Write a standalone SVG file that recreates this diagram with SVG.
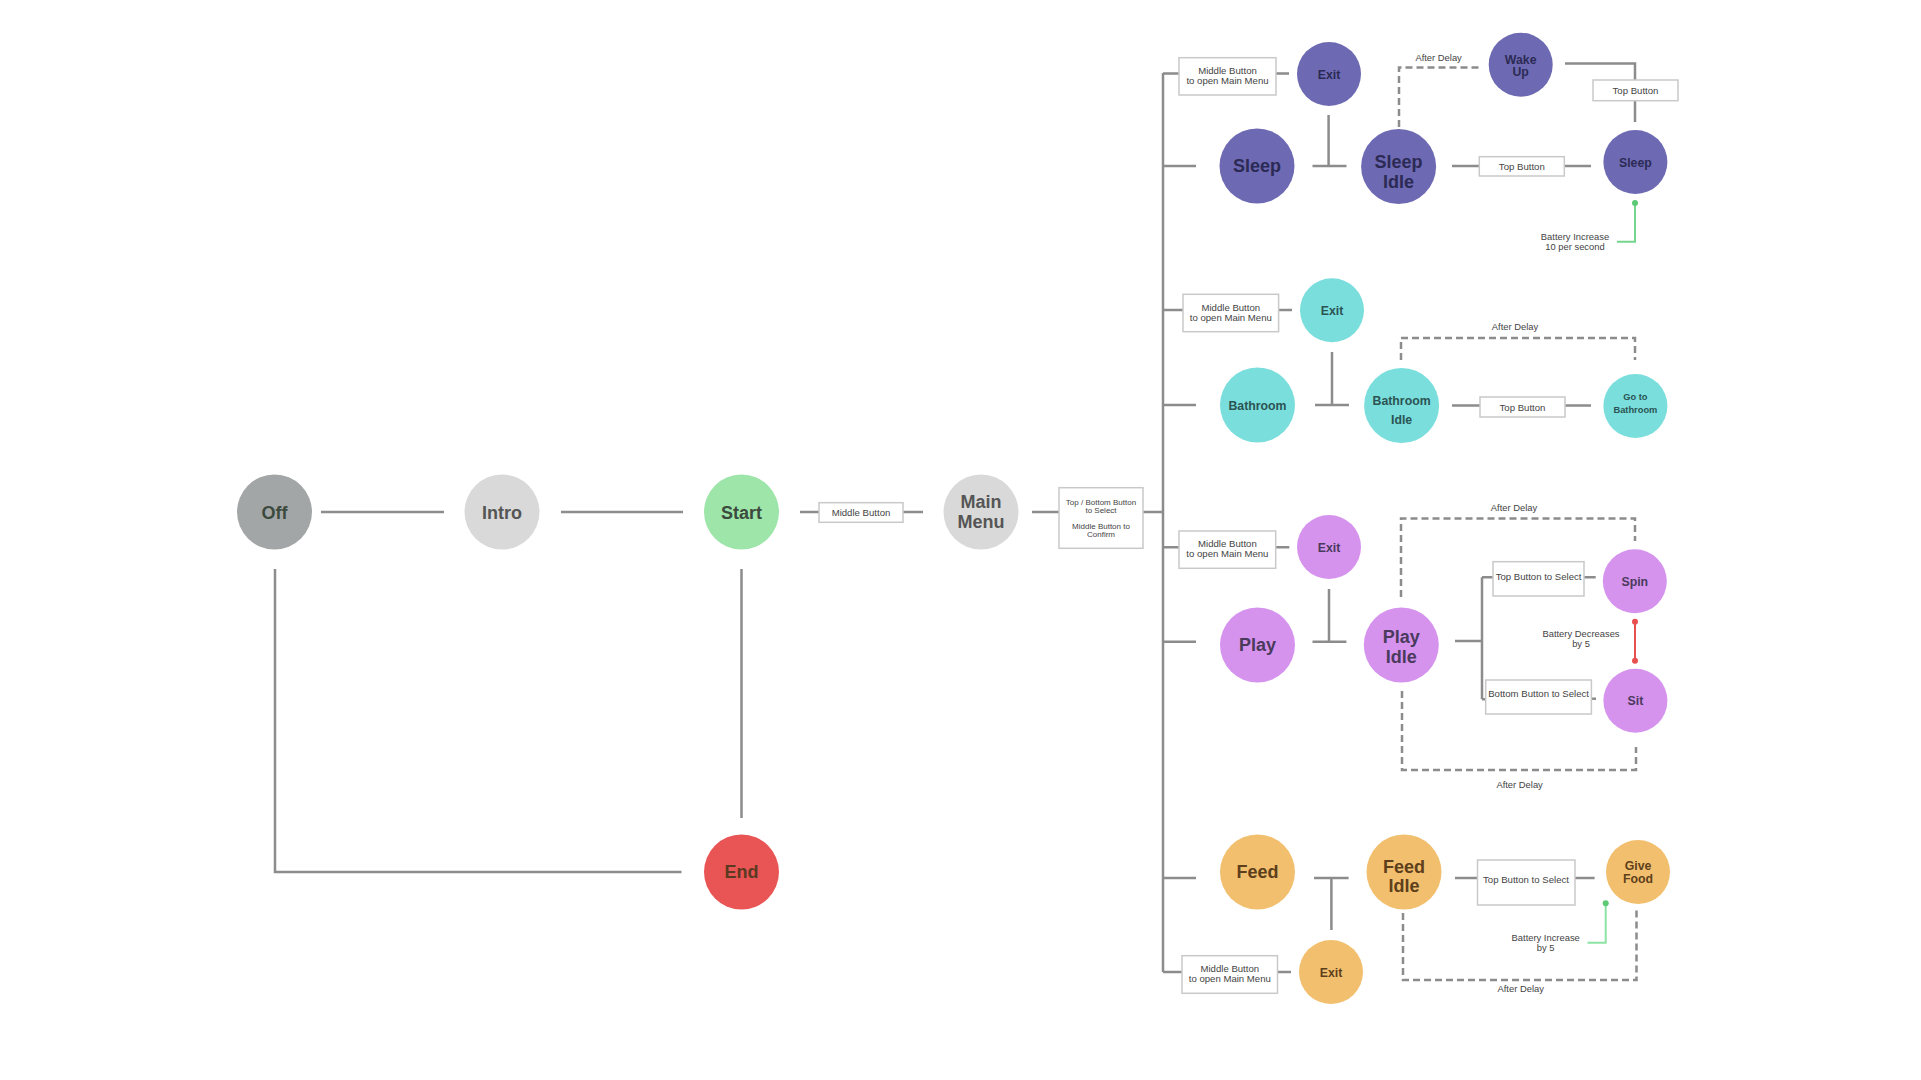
<svg xmlns="http://www.w3.org/2000/svg" width="1921" height="1080" viewBox="0 0 1921 1080">
<style>
.ln{fill:none;stroke:#8c8c8c;stroke-width:2.5}
.dash{fill:none;stroke:#8c8c8c;stroke-width:2.5;stroke-dasharray:7 4}
.box{fill:#fff;stroke:#c9c9c9;stroke-width:1.5}
.bt{font-family:"Liberation Sans",Arial,sans-serif;font-size:9.6px;fill:#444;text-anchor:middle}
.lbl{font-family:"Liberation Sans",Arial,sans-serif;font-size:9.4px;fill:#444;text-anchor:middle}
.big{font-family:"Liberation Sans",Arial,sans-serif;font-size:18px;font-weight:bold;text-anchor:middle}
.sm{font-family:"Liberation Sans",Arial,sans-serif;font-size:12.3px;font-weight:bold;text-anchor:middle}
.xs{font-family:"Liberation Sans",Arial,sans-serif;font-size:9.3px;font-weight:bold;text-anchor:middle}
.pu{fill:#6d6ab3}.put{fill:#2c2a55}
.cy{fill:#79dedc}.cyt{fill:#2b5453}
.vi{fill:#d593ee}.vit{fill:#4a3a5c}
.or{fill:#f2bf6e}.ort{fill:#5e3f1c}
</style>
<rect width="1921" height="1080" fill="#fff"/>
<g id="connectors">
<path class="ln" d="M321 512H444M561 512H683M800 512H819M903 512H923M1032 512H1059M1143 512H1163M275 569V872H681.5M741.5 569V818"/>
<path class="ln" d="M1163 73V972"/>
<path class="ln" d="M1163 73.5H1179M1276 73.5H1289M1163 166H1196M1312.5 166H1346.5M1328.6 115V166M1452 166H1479.5M1564 166H1591M1565 63.5H1635V122"/>
<path class="ln" d="M1163 310H1183M1278.6 310H1292M1163 405H1196M1315 405H1349M1332 352V405M1452 405.5H1480M1565 405.5H1591"/>
<path class="ln" d="M1163 547.3H1179M1275.7 547.3H1289.3M1163 641.7H1196M1312.5 641.7H1346.4M1329 589V641.7M1455 641H1482M1482 577.3V699.3M1482 577.3H1493M1584 577.3H1595.7M1482 699.3H1485.7M1591.4 698.7H1596"/>
<path class="ln" d="M1163 878H1196M1314 878H1348.6M1331.4 878V930M1455 878H1477.5M1575 878H1594.6M1163 972H1182M1277.5 972H1291"/>
<path class="dash" d="M1399 127V67.5H1482"/>
<path class="dash" d="M1401 360V338H1635V360"/>
<path class="dash" d="M1401 597V518.5H1635V541"/>
<path class="dash" d="M1402 691V770H1636V747"/>
<path class="dash" d="M1403 913V980H1636.5V908"/>
<path d="M1635 203V241.7H1617" fill="none" stroke="#74d68e" stroke-width="2"/>
<circle cx="1635" cy="203" r="3" fill="#5cc975"/>
<path d="M1605.7 903.3V942.7H1587.5" fill="none" stroke="#8de3a5" stroke-width="2"/>
<circle cx="1605.7" cy="903.3" r="3" fill="#5cc975"/>
<path d="M1635 621.7V660.7" fill="none" stroke="#e8504f" stroke-width="2"/>
<circle cx="1635" cy="621.7" r="3" fill="#e8504f"/>
<circle cx="1635" cy="660.7" r="3" fill="#e8504f"/>
<rect class="box" x="819" y="502.7" width="84" height="19.6"/>
<text class="bt" x="861" y="515.6">Middle Button</text>
<rect class="box" x="1059" y="487.7" width="84" height="60.6"/>
<text class="bt" style="font-size:8px" x="1101" y="505.3">Top / Bottom Button</text>
<text class="bt" style="font-size:8px" x="1101" y="513">to Select</text>
<text class="bt" style="font-size:8px" x="1101" y="528.7">Middle Button to</text>
<text class="bt" style="font-size:8px" x="1101" y="536.7">Confirm</text>
<rect class="box" x="1179" y="57.7" width="97" height="37.3"/>
<text class="bt" x="1227.5" y="74.2">Middle Button</text>
<text class="bt" x="1227.5" y="84">to open Main Menu</text>
<rect class="box" x="1479.3" y="156.7" width="85" height="19.3"/>
<text class="bt" x="1521.8" y="169.8">Top Button</text>
<rect class="box" x="1593" y="80" width="85" height="20.7"/>
<text class="bt" x="1635.5" y="93.8">Top Button</text>
<text class="lbl" x="1438.6" y="60.5">After Delay</text>
<text class="lbl" x="1575" y="240">Battery Increase</text>
<text class="lbl" x="1575" y="250">10 per second</text>
<rect class="box" x="1183" y="294.3" width="95.6" height="37.4"/>
<text class="bt" x="1230.8" y="310.7">Middle Button</text>
<text class="bt" x="1230.8" y="320.7">to open Main Menu</text>
<rect class="box" x="1480" y="397" width="85" height="20"/>
<text class="bt" x="1522.5" y="410.8">Top Button</text>
<text class="lbl" x="1515" y="329.5">After Delay</text>
<rect class="box" x="1179" y="531" width="96.7" height="37.3"/>
<text class="bt" x="1227.4" y="547.3">Middle Button</text>
<text class="bt" x="1227.4" y="557.3">to open Main Menu</text>
<rect class="box" x="1493" y="561.7" width="91" height="34.3"/>
<text class="bt" x="1538.6" y="580">Top Button to Select</text>
<rect class="box" x="1485.7" y="680" width="105.7" height="34"/>
<text class="bt" x="1538.6" y="697.3">Bottom Button to Select</text>
<text class="lbl" x="1514" y="510.7">After Delay</text>
<text class="lbl" x="1519.6" y="788.4">After Delay</text>
<text class="lbl" x="1581" y="636.7">Battery Decreases</text>
<text class="lbl" x="1581" y="646.7">by 5</text>
<rect class="box" x="1477.5" y="860" width="97.5" height="45"/>
<text class="bt" x="1526" y="883">Top Button to Select</text>
<rect class="box" x="1182" y="955.7" width="95.5" height="37.6"/>
<text class="bt" x="1229.8" y="972">Middle Button</text>
<text class="bt" x="1229.8" y="982">to open Main Menu</text>
<text class="lbl" x="1545.7" y="941">Battery Increase</text>
<text class="lbl" x="1545.7" y="951">by 5</text>
<text class="lbl" x="1520.7" y="992.4">After Delay</text>
</g>
<g id="off"><circle cx="274.5" cy="512" r="37.5" fill="#a3a6a6"/><text class="big" x="274.5" y="518.8" fill="#3c4a3e">Off</text></g>
<g id="intro"><circle cx="502" cy="512" r="37.5" fill="#d9d9d9"/><text class="big" x="502" y="518.8" fill="#555">Intro</text></g>
<g id="start"><circle cx="741.5" cy="512" r="37.5" fill="#9de5a9"/><text class="big" x="741.5" y="518.8" fill="#3c4a3e">Start</text></g>
<g id="main-menu"><circle cx="981" cy="512" r="37.5" fill="#d9d9d9"/><text class="big" x="981" y="508.3" fill="#555">Main</text><text class="big" x="981" y="527.7" fill="#555">Menu</text></g>
<g id="end"><circle cx="741.5" cy="872" r="37.5" fill="#e95455"/><text class="big" x="741.5" y="878.3" fill="#5b3a22">End</text></g>
<g id="sleep-exit"><circle class="pu" cx="1329" cy="74" r="32"/><text class="sm put" x="1329" y="78.6">Exit</text></g>
<g id="sleep"><circle class="pu" cx="1257" cy="166" r="37.5"/><text class="big put" x="1257" y="172.3">Sleep</text></g>
<g id="sleep-idle"><circle class="pu" cx="1398.6" cy="166.5" r="37.5"/><text class="big put" x="1398.6" y="168">Sleep</text><text class="big put" x="1398.6" y="188">Idle</text></g>
<g id="wake-up"><circle class="pu" cx="1520.7" cy="64.7" r="32"/><text class="sm put" x="1520.7" y="64.3">Wake</text><text class="sm put" x="1520.7" y="76">Up</text></g>
<g id="sleep-2"><circle class="pu" cx="1635.4" cy="162" r="32"/><text class="sm put" x="1635.4" y="166.5">Sleep</text></g>
<g id="bathroom-exit"><circle class="cy" cx="1332" cy="310.3" r="32"/><text class="sm cyt" x="1332" y="314.8">Exit</text></g>
<g id="bathroom"><circle class="cy" cx="1257.5" cy="405" r="37.5"/><text class="sm cyt" x="1257.5" y="409.5">Bathroom</text></g>
<g id="bathroom-idle"><circle class="cy" cx="1401.6" cy="405.5" r="37.5"/><text class="sm cyt" x="1401.6" y="404.5">Bathroom</text><text class="sm cyt" x="1401.6" y="424">Idle</text></g>
<g id="go-to-bathroom"><circle class="cy" cx="1635.4" cy="406" r="32"/><text class="xs cyt" x="1635.4" y="399.5">Go to</text><text class="xs cyt" x="1635.4" y="413.3">Bathroom</text></g>
<g id="play-exit"><circle class="vi" cx="1329" cy="547" r="32"/><text class="sm vit" x="1329" y="551.5">Exit</text></g>
<g id="play"><circle class="vi" cx="1257.5" cy="645" r="37.5"/><text class="big vit" x="1257.5" y="651.3">Play</text></g>
<g id="play-idle"><circle class="vi" cx="1401.3" cy="645" r="37.5"/><text class="big vit" x="1401.3" y="643">Play</text><text class="big vit" x="1401.3" y="662.7">Idle</text></g>
<g id="spin"><circle class="vi" cx="1634.8" cy="581.3" r="32"/><text class="sm vit" x="1634.8" y="585.5">Spin</text></g>
<g id="sit"><circle class="vi" cx="1635.4" cy="700.7" r="32"/><text class="sm vit" x="1635.4" y="704.8">Sit</text></g>
<g id="feed"><circle class="or" cx="1257.5" cy="872" r="37.5"/><text class="big ort" x="1257.5" y="878.3">Feed</text></g>
<g id="feed-idle"><circle class="or" cx="1404" cy="872" r="37.5"/><text class="big ort" x="1404" y="872.7">Feed</text><text class="big ort" x="1404" y="891.7">Idle</text></g>
<g id="give-food"><circle class="or" cx="1638" cy="872" r="32"/><text class="sm ort" x="1638" y="870">Give</text><text class="sm ort" x="1638" y="882.7">Food</text></g>
<g id="feed-exit"><circle class="or" cx="1331" cy="972" r="32"/><text class="sm ort" x="1331" y="976.5">Exit</text></g>
</svg>
